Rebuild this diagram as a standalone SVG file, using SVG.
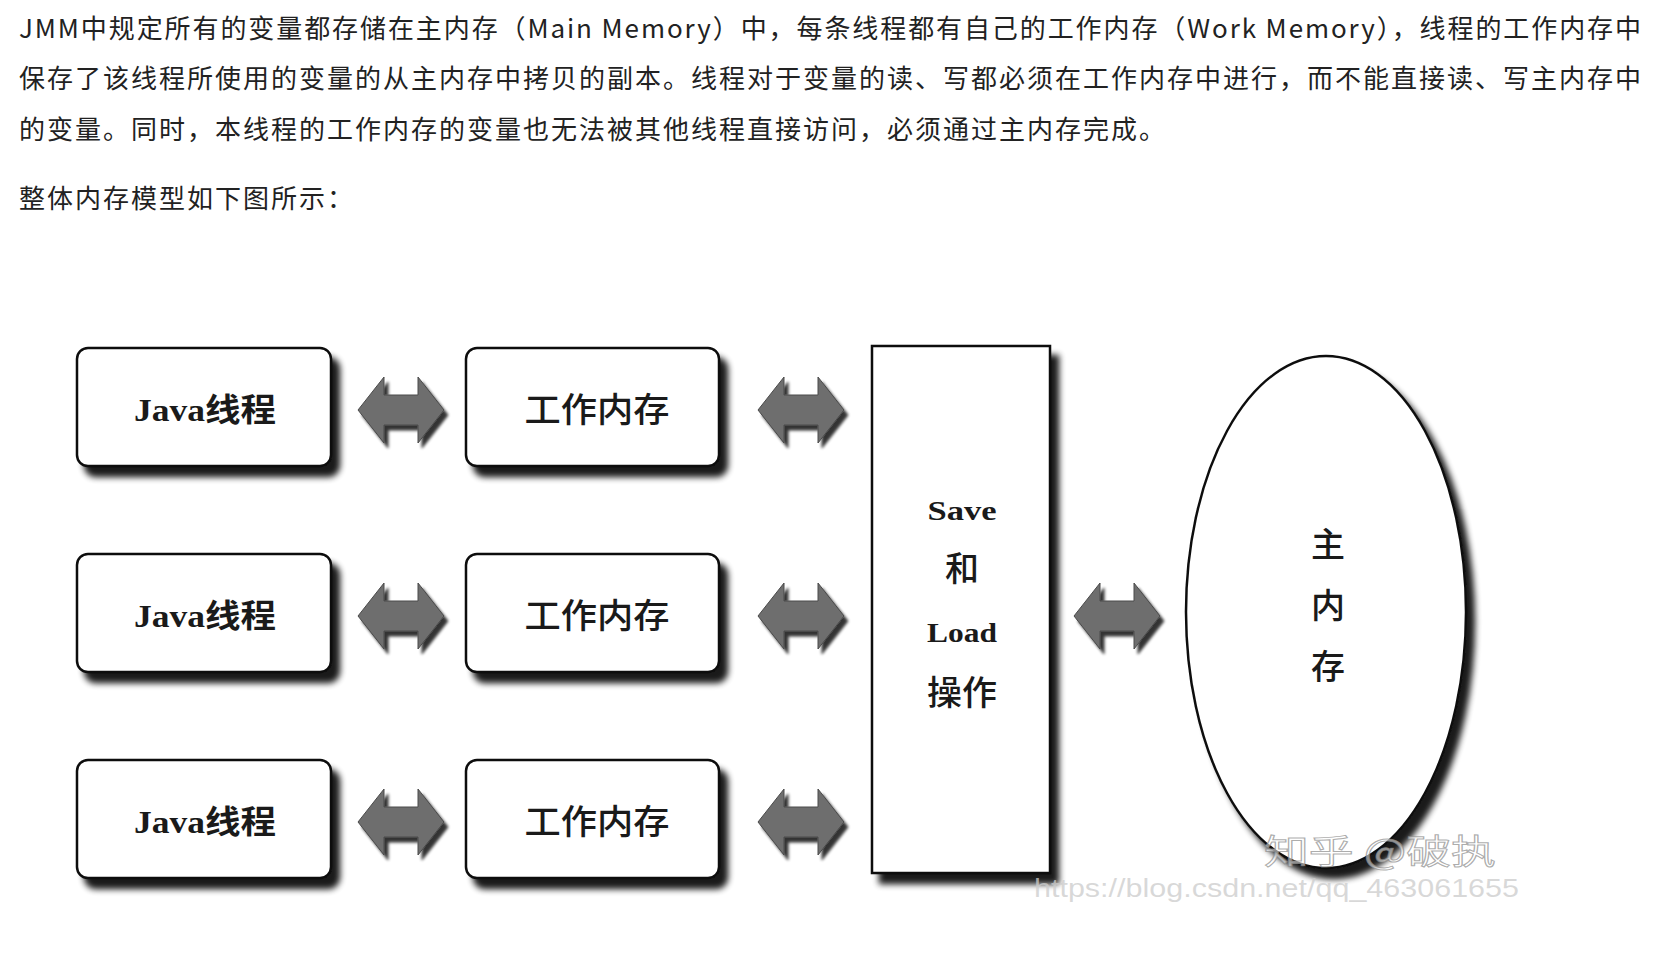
<svg xmlns="http://www.w3.org/2000/svg" width="1680" height="968" viewBox="0 0 1680 968">
<style>
.para{font-family:"Noto Sans CJK SC","Noto Sans",sans-serif;font-size:26px;fill:#222}
.box{fill:#fff;stroke:#111;stroke-width:2.5}
.lbl{font-family:"Liberation Serif","Noto Sans CJK SC",serif;font-size:32px;font-weight:bold;fill:#1a1a1a;text-anchor:middle}
.sm{font-size:28px}
.cjk{font-family:"Noto Sans CJK SC",sans-serif;font-size:34px;font-weight:500;fill:#1a1a1a;text-anchor:middle}
.arr{fill:#6e6e6e;stroke:#4a4a4a;stroke-width:1}
.wm1{font-family:"Noto Sans CJK SC",sans-serif;font-size:34px;fill:#fff;fill-opacity:0.55;stroke:#888;stroke-width:1;stroke-opacity:0.7}
.wm2{font-family:"Liberation Sans",sans-serif;font-size:25px;fill:#ccc;fill-opacity:0.75}
</style>
<defs>
<filter id="sh" x="-10%" y="-10%" width="130%" height="130%">
<feGaussianBlur in="SourceAlpha" stdDeviation="3"/>
<feOffset dx="8" dy="10" result="b"/>
<feComponentTransfer><feFuncA type="linear" slope="0.9"/></feComponentTransfer>
<feMerge><feMergeNode/><feMergeNode in="SourceGraphic"/></feMerge>
</filter>
<filter id="ash" x="-20%" y="-20%" width="140%" height="150%">
<feGaussianBlur in="SourceAlpha" stdDeviation="1.5"/>
<feOffset dx="4" dy="5"/>
<feComponentTransfer><feFuncA type="linear" slope="0.8"/></feComponentTransfer>
<feMerge><feMergeNode/><feMergeNode in="SourceGraphic"/></feMerge>
</filter>
<path id="dbl" d="M-44,0 L-18,-33 L-18,-15 L16,-15 L16,-33 L42,0 L16,33 L16,15 L-18,15 L-18,33 Z"/>
</defs>
<rect width="1680" height="968" fill="#fff"/>

<g id="intro">
<text class="para" x="19" y="38" textLength="1622" lengthAdjust="spacing">JMM中规定所有的变量都存储在主内存（Main Memory）中，每条线程都有自己的工作内存（Work Memory），线程的工作内存中</text>
<text class="para" x="19" y="88" textLength="1622" lengthAdjust="spacing">保存了该线程所使用的变量的从主内存中拷贝的副本。线程对于变量的读、写都必须在工作内存中进行，而不能直接读、写主内存中</text>
<text class="para" x="19" y="139" textLength="1146" lengthAdjust="spacing">的变量。同时，本线程的工作内存的变量也无法被其他线程直接访问，必须通过主内存完成。</text>
<text class="para" x="19" y="208" textLength="334" lengthAdjust="spacing">整体内存模型如下图所示：</text>
</g>

<g id="connectors">
<use href="#dbl" x="402" y="410" class="arr" filter="url(#ash)"/>
<use href="#dbl" x="402" y="616" class="arr" filter="url(#ash)"/>
<use href="#dbl" x="402" y="822" class="arr" filter="url(#ash)"/>
<use href="#dbl" x="802" y="410" class="arr" filter="url(#ash)"/>
<use href="#dbl" x="802" y="616" class="arr" filter="url(#ash)"/>
<use href="#dbl" x="802" y="822" class="arr" filter="url(#ash)"/>
<use href="#dbl" x="1118" y="616" class="arr" filter="url(#ash)"/>
</g>

<g id="java1"><rect class="box" x="77" y="348" width="254" height="118" rx="11" filter="url(#sh)"/><text class="lbl" x="205" y="421" textLength="142" lengthAdjust="spacingAndGlyphs">Java线程</text></g>
<g id="java2"><rect class="box" x="77" y="554" width="254" height="118" rx="11" filter="url(#sh)"/><text class="lbl" x="205" y="627" textLength="142" lengthAdjust="spacingAndGlyphs">Java线程</text></g>
<g id="java3"><rect class="box" x="77" y="760" width="254" height="118" rx="11" filter="url(#sh)"/><text class="lbl" x="205" y="833" textLength="142" lengthAdjust="spacingAndGlyphs">Java线程</text></g>

<g id="work1"><rect class="box" x="466" y="348" width="253" height="118" rx="11" filter="url(#sh)"/><text class="cjk" x="597" y="422" textLength="145" lengthAdjust="spacingAndGlyphs">工作内存</text></g>
<g id="work2"><rect class="box" x="466" y="554" width="253" height="118" rx="11" filter="url(#sh)"/><text class="cjk" x="597" y="628" textLength="145" lengthAdjust="spacingAndGlyphs">工作内存</text></g>
<g id="work3"><rect class="box" x="466" y="760" width="253" height="118" rx="11" filter="url(#sh)"/><text class="cjk" x="597" y="834" textLength="145" lengthAdjust="spacingAndGlyphs">工作内存</text></g>

<g id="saveload">
<rect class="box" x="872" y="346" width="178" height="527" filter="url(#sh)"/>
<text class="lbl sm" x="962" y="520" textLength="69" lengthAdjust="spacingAndGlyphs">Save</text>
<text class="cjk" x="962" y="581">和</text>
<text class="lbl sm" x="962" y="642" textLength="70" lengthAdjust="spacingAndGlyphs">Load</text>
<text class="cjk" x="962" y="705" textLength="70" lengthAdjust="spacingAndGlyphs">操作</text>
</g>

<g id="mainmem">
<ellipse class="box" cx="1326" cy="612" rx="140" ry="256" filter="url(#sh)"/>
<text class="cjk" x="1328" y="557">主</text>
<text class="cjk" x="1328" y="618">内</text>
<text class="cjk" x="1328" y="679">存</text>
</g>

<g id="watermark">
<text class="wm1" x="1264" y="864" textLength="232" lengthAdjust="spacingAndGlyphs">知乎 @破执</text>
<text class="wm2" x="1034" y="897" textLength="485" lengthAdjust="spacingAndGlyphs">https://blog.csdn.net/qq_463061655</text>
</g>
</svg>
